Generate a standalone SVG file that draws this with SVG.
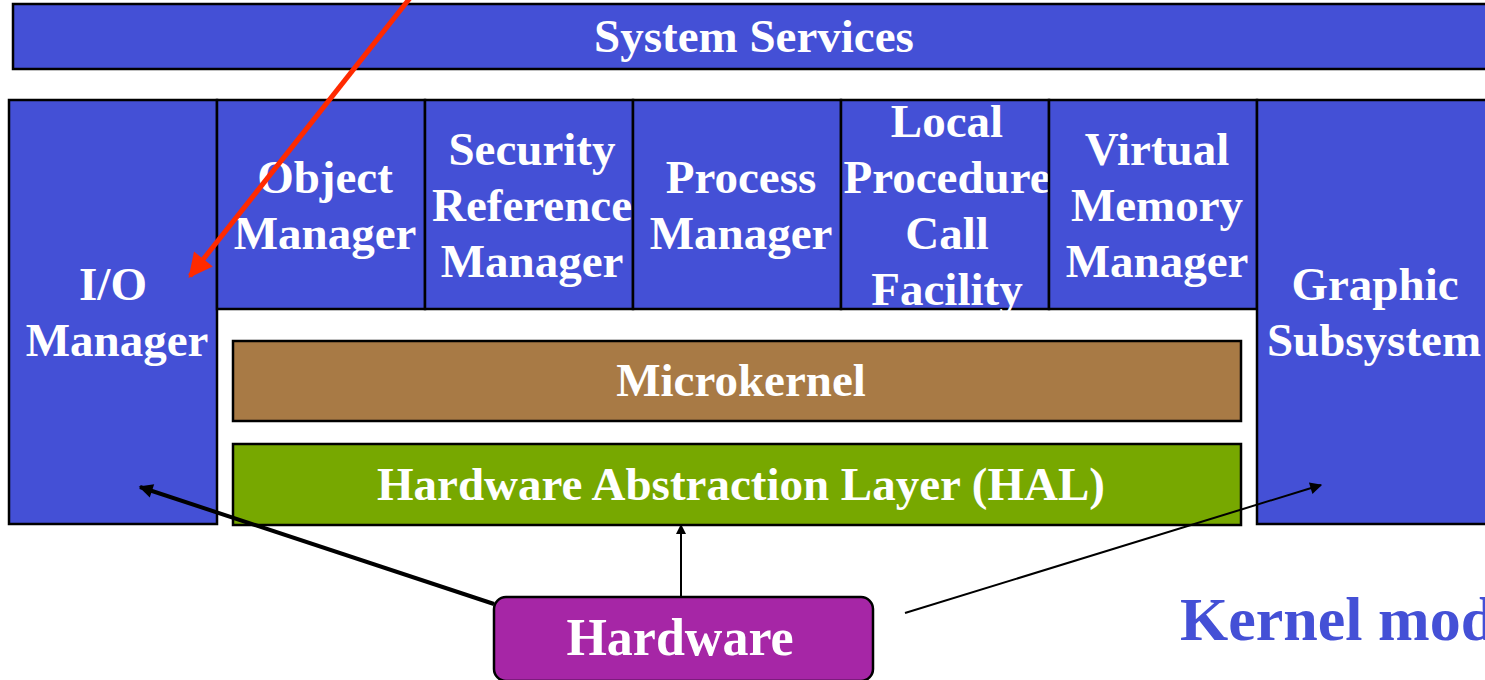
<svg xmlns="http://www.w3.org/2000/svg" width="1485" height="680" viewBox="0 0 1485 680">
<defs>
<style>
.box{fill:#4450D6;stroke:#000;stroke-width:2.5}
.t{font-family:"Liberation Serif","Times New Roman",serif;font-weight:bold;fill:#fff;font-size:47px;text-anchor:middle}
.ln{stroke:#000;fill:none}
</style>
<marker id="ah" viewBox="0 0 10 10" refX="9" refY="5" markerWidth="12" markerHeight="10" markerUnits="userSpaceOnUse" orient="auto"><path d="M0,0 L10,5 L0,10 z" fill="#000"/></marker>
<marker id="ahb" viewBox="0 0 10 10" refX="9" refY="5" markerWidth="22" markerHeight="14" markerUnits="userSpaceOnUse" orient="auto"><path d="M0,0 L10,5 L0,10 z" fill="#000"/></marker>
<marker id="ahs" viewBox="0 0 10 10" refX="9" refY="5" markerWidth="16" markerHeight="12" markerUnits="userSpaceOnUse" orient="auto"><path d="M0,0 L10,5 L0,10 z" fill="#000"/></marker>
<marker id="ahr" viewBox="0 0 10 10" refX="9" refY="5" markerWidth="30" markerHeight="24" markerUnits="userSpaceOnUse" orient="auto"><path d="M0,0 L10,5 L0,10 z" fill="#FF2A00"/></marker>
</defs>
<rect width="1485" height="680" fill="#fff"/>
<g id="system-services"><rect class="box" x="13" y="4" width="1485" height="65"/><text class="t" x="754" y="52">System Services</text></g>
<g id="io-manager"><rect class="box" x="9" y="100" width="208" height="424"/><text class="t" x="113" y="300">I/O</text><text class="t" x="117" y="356">Manager</text></g>
<g id="object-manager"><rect class="box" x="217" y="100" width="208" height="209"/><text class="t" x="325" y="193">Object</text><text class="t" x="325" y="249">Manager</text></g>
<g id="security-reference-manager"><rect class="box" x="425" y="100" width="208" height="209"/><text class="t" x="532" y="165">Security</text><text class="t" x="532" y="221">Reference</text><text class="t" x="532" y="277">Manager</text></g>
<g id="process-manager"><rect class="box" x="633" y="100" width="208" height="209"/><text class="t" x="741" y="193">Process</text><text class="t" x="741" y="249">Manager</text></g>
<g id="lpc-facility"><rect class="box" x="841" y="100" width="208" height="209"/><text class="t" x="947" y="137">Local</text><text class="t" x="947" y="193">Procedure</text><text class="t" x="947" y="249">Call</text><text class="t" x="947" y="305">Facility</text></g>
<g id="virtual-memory-manager"><rect class="box" x="1049" y="100" width="208" height="209"/><text class="t" x="1157" y="165">Virtual</text><text class="t" x="1157" y="221">Memory</text><text class="t" x="1157" y="277">Manager</text></g>
<g id="graphic-subsystem"><rect class="box" x="1257" y="100" width="260" height="424"/><text class="t" x="1375" y="300">Graphic</text><text class="t" x="1374" y="356">Subsystem</text></g>
<g id="microkernel"><rect x="233" y="341" width="1008" height="80" fill="#A87A45" stroke="#000" stroke-width="2.5"/><text class="t" x="741" y="396">Microkernel</text></g>
<g id="hal"><rect x="233" y="444" width="1008" height="81" fill="#77A800" stroke="#000" stroke-width="2.5"/><text class="t" x="741" y="500">Hardware Abstraction Layer (HAL)</text></g>
<g id="hardware"><rect x="494" y="597" width="379" height="84" rx="12" fill="#A626A6" stroke="#000" stroke-width="2.5"/><text class="t" x="680" y="655" style="font-size:52px">Hardware</text></g>
<g id="kernel-mode-label"><text x="1180" y="640" style="font-family:'Liberation Serif','Times New Roman',serif;font-weight:bold;font-size:62px;fill:#4450D6">Kernel mode</text></g>
<g id="connectors">
<line class="ln" x1="410" y1="-2" x2="190" y2="276" stroke="#FF2A00" stroke-width="5" style="stroke:#FF2A00" marker-end="url(#ahr)"/>
<line class="ln" x1="494" y1="604" x2="140" y2="487" stroke-width="4" marker-end="url(#ahb)"/>
<line class="ln" x1="681" y1="597" x2="681" y2="525" stroke-width="2" marker-end="url(#ah)"/>
<line class="ln" x1="905" y1="613" x2="1321" y2="485" stroke-width="2" marker-end="url(#ahs)"/>
</g>
</svg>
